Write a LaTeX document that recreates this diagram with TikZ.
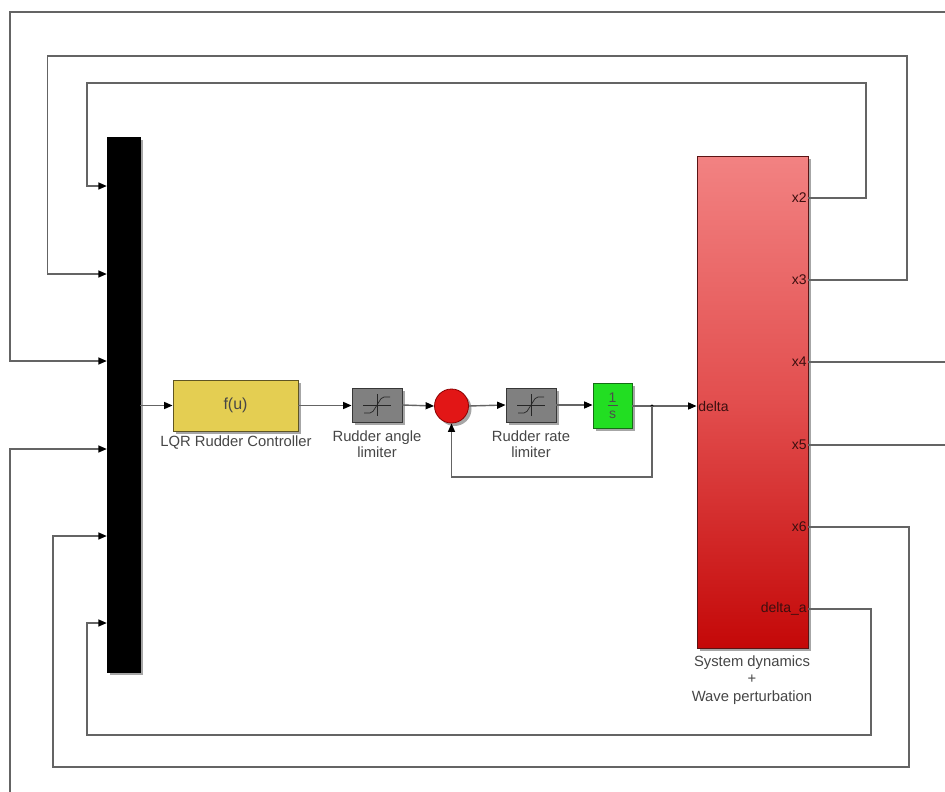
\documentclass[tikz,border=0pt]{standalone}
\usepackage{fontspec}
\setmainfont{Liberation Sans}
\usetikzlibrary{arrows.meta,shadows,calc}
\definecolor{wirecol}{RGB}{100,100,100}
\definecolor{lbltext}{RGB}{70,70,70}
\definecolor{lqrfill}{RGB}{228,206,82}
\definecolor{lqrdraw}{RGB}{95,85,35}
\definecolor{satfill}{RGB}{128,128,128}
\definecolor{satdraw}{RGB}{55,55,55}
\definecolor{sumfill}{RGB}{226,22,22}
\definecolor{sumdraw}{RGB}{140,0,0}
\definecolor{intfill}{RGB}{34,222,34}
\definecolor{intdraw}{RGB}{20,110,20}
\definecolor{systop}{RGB}{242,130,130}
\definecolor{sysmid}{RGB}{226,78,78}
\definecolor{sysbot}{RGB}{196,8,8}
\definecolor{sysdraw}{RGB}{90,20,20}
\definecolor{porttext}{RGB}{60,15,15}
\begin{document}
\begin{tikzpicture}[x=1pt,y=-1pt,
  wire/.style={draw=wirecol,line width=1.4pt},
  arr/.style={wire,-{Triangle[length=8.5pt,width=7pt,color=black]}},
  bshadow/.style={drop shadow={shadow xshift=3pt,shadow yshift=-3pt,opacity=0.35,fill=black}},
  muxbox/.style={rectangle,fill=black,draw=black,minimum width=33pt,minimum height=535pt,inner sep=0pt,bshadow},
  lqrbox/.style={rectangle,fill=lqrfill,draw=lqrdraw,line width=0.8pt,minimum width=125pt,minimum height=51pt,inner sep=0pt,bshadow,font=\fontsize{16}{16}\selectfont,text=lbltext},
  satbox/.style={rectangle,fill=satfill,draw=satdraw,line width=0.8pt,minimum width=50pt,minimum height=34pt,inner sep=0pt,bshadow},
  sumnode/.style={circle,fill=sumfill,draw=sumdraw,line width=0.8pt,minimum size=34pt,inner sep=0pt,bshadow},
  intbox/.style={rectangle,fill=intfill,draw=intdraw,line width=0.8pt,minimum width=39pt,minimum height=45pt,inner sep=0pt,bshadow},
  inttext/.style={font=\fontsize{14}{14}\selectfont,text=black!70,inner sep=0pt},
  sysbox/.style={rectangle,top color=systop,bottom color=sysbot,middle color=sysmid,draw=sysdraw,line width=0.8pt,minimum width=111pt,minimum height=492pt,inner sep=0pt,bshadow},
  lbl/.style={font=\fontsize{14.8}{16}\selectfont,text=lbltext,align=center,inner sep=0pt},
  portlbl/.style={font=\fontsize{14}{14}\selectfont,text=porttext,inner sep=1.5pt},
  saticon/.style={draw=black!85,line width=0.7pt}
]
\useasboundingbox (0,0) rectangle (945,792);
\fill[white] (0,0) rectangle (945,792);

% blocks
\node[muxbox] (mux) at (123.5,404.5) {};
\node[lqrbox] (lqr) at (235.5,405.5) {f(u)};
\node[satbox] (sat1) at (377,405) {};
\node[sumnode] (sum) at (451.5,406) {};
\node[satbox] (sat2) at (531,405) {};
\node[intbox] (integ) at (612.5,405.5) {};
\node[sysbox] (sys) at (752.5,402) {};

% integrator 1/s
\node[inttext] (num) at ($(integ)+(0,-8)$) {1};
\node[inttext] (den) at ($(integ)+(0,9)$) {s};
\draw[black!70,line width=0.7pt] ($(integ)+(-5,0)$) -- ($(integ)+(5,0)$);

% saturation icons
\foreach \s in {sat1,sat2}{
  \draw[saticon] ($(\s)+(-14,0)$) -- ($(\s)+(14,0)$);
  \draw[saticon] ($(\s)+(0,-11)$) -- ($(\s)+(0,11)$);
  \draw[saticon,rounded corners=2pt] ($(\s)+(-13,8)$) -- ($(\s)+(-5,8)$) -- ($(\s)+(5,-8)$) -- ($(\s)+(13,-8)$);
}

% labels
\node[lbl] (lqrlbl) at (236,443) {LQR Rudder Controller};
\node[lbl] (sat1lbl) at (377,444) {Rudder angle\\limiter};
\node[lbl] (sat2lbl) at (531,444) {Rudder rate\\limiter};
\node[lbl,font=\fontsize{14.8}{17.5}\selectfont] (syslbl) at (752,680) {System dynamics\\+\\Wave perturbation};

% ports of system block
\coordinate (px2) at (sys.east |- 0,198);
\coordinate (px3) at (sys.east |- 0,280);
\coordinate (px4) at (sys.east |- 0,362);
\coordinate (px5) at (sys.east |- 0,445);
\coordinate (px6) at (sys.east |- 0,527);
\coordinate (pda) at (sys.east |- 0,609);
\coordinate (pdelta) at (sys.west |- 0,406);
\node[portlbl,anchor=east] (lx2) at (px2) {x2};
\node[portlbl,anchor=east] (lx3) at (px3) {x3};
\node[portlbl,anchor=east] (lx4) at (px4) {x4};
\node[portlbl,anchor=east] (lx5) at (px5) {x5};
\node[portlbl,anchor=east] (lx6) at (px6) {x6};
\node[portlbl,anchor=east] (lda) at (pda) {delta\_a};
\node[portlbl,anchor=west] (ldelta) at (pdelta) {delta};

% mux inputs
\coordinate (in1) at (mux.west |- 0,186);
\coordinate (in2) at (mux.west |- 0,274);
\coordinate (in3) at (mux.west |- 0,361);
\coordinate (in4) at (mux.west |- 0,449);
\coordinate (in5) at (mux.west |- 0,536);
\coordinate (in6) at (mux.west |- 0,623);

% forward path
\draw[arr] (mux.east |- lqr.west) -- (lqr.west);
\draw[arr] (lqr.east) -- (sat1.west |- lqr.east);
\draw[arr] (sat1.east) -- (sum.west);
\draw[arr] (sum.east) -- (sat2.west);
\draw[arr] (sat2.east) -- (integ.west |- sat2.east);
\coordinate (br) at (652,406);
\draw[wire] (integ.east |- br) -- (br);
\draw[arr] (br) -- (pdelta);
\fill[black] (br) circle (1.6pt);
\coordinate (fb) at (451.5,477);
\draw[arr] (br) |- (fb) -- (sum.south);

% feedback loops
\draw[arr] (px2) -- (866,198) -- (866,83) -- (87,83) -- (87,186) -- (in1);
\draw[arr] (px3) -- (907,280) -- (907,56) -- (47.5,56) -- (47.5,274) -- (in2);
\draw[arr] (px4) -- (960,362) -- (960,12) -- (10,12) -- (10,361) -- (in3);
\draw[arr] (px5) -- (960,445) -- (960,805) -- (10,805) -- (10,449) -- (in4);
\draw[arr] (px6) -- (909,527) -- (909,767) -- (53,767) -- (53,536) -- (in5);
\draw[arr] (pda) -- (871,609) -- (871,735) -- (87,735) -- (87,623) -- (in6);
\end{tikzpicture}
\end{document}
